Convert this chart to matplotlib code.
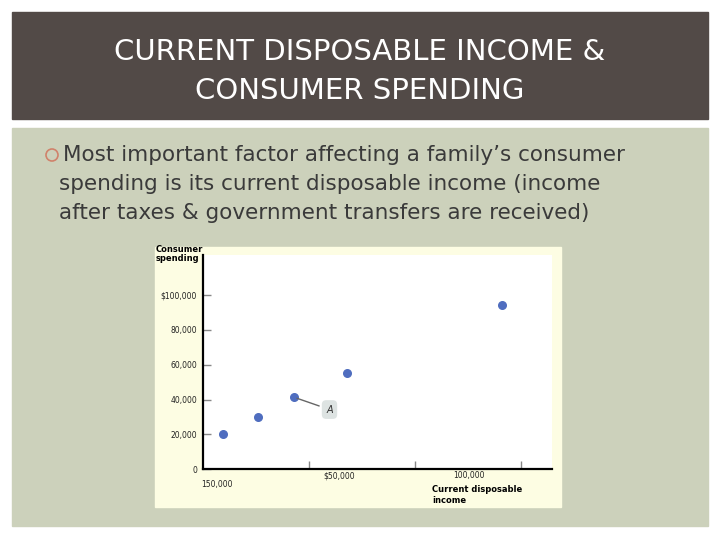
import matplotlib
matplotlib.use("Agg")
import matplotlib.pyplot as plt
from matplotlib.patches import Rectangle, Ellipse

# chart data
income = [9700, 25900, 43200, 67900, 141200]
spending = [20200, 30000, 41300, 55400, 94300]
y_ticks = [0, 20000, 40000, 60000, 80000, 100000]
y_labels = ["0", "20,000", "40,000", "60,000", "80,000", "$100,000"]
x_ticks = [50000, 100000, 150000]
x_label_pos = [6700, 64300, 125600]
x_labels = ["150,000", "$50,000", "100,000"]

W, H = 720, 540


def fx(px):
    return px / W


def fy(py):
    return 1 - py / H


fig = plt.figure(figsize=(7.2, 5.4), dpi=100)
fig.patch.set_facecolor("white")

# title bar
fig.add_artist(Rectangle((fx(12), fy(119)), fx(696), 107 / H, color="#524a47", zorder=0))
fig.text(0.5, fy(52), "CURRENT DISPOSABLE INCOME &", color="white", fontsize=21,
         ha="center", va="center")
fig.text(0.5, fy(91), "CONSUMER SPENDING", color="white", fontsize=21,
         ha="center", va="center")

# content box
fig.add_artist(Rectangle((fx(12), fy(526)), fx(696), 398 / H, color="#ccd1bb", zorder=0))
fig.add_artist(Ellipse((fx(52), fy(155)), fx(12), 12 / H, fill=False,
                       edgecolor="#d0826b", linewidth=1.2))
body = ["Most important factor affecting a family\u2019s consumer",
        "spending is its current disposable income (income",
        "after taxes & government transfers are received)"]
for i, line in enumerate(body):
    fig.text(fx(63 if i == 0 else 59), fy(155 + 29 * i), line, color="#3a3a3a",
             fontsize=15.5, ha="left", va="center")

# chart background
fig.add_artist(Rectangle((fx(155), fy(507)), fx(406), 260 / H, color="#fdfde3", zorder=0))

ax = fig.add_axes([fx(202.7), fy(469.3), fx(349), 214.3 / H])
ax.set_facecolor("white")
ax.set_xlim(0, 164600)
ax.set_ylim(0, 123000)
for s in ["top", "right"]:
    ax.spines[s].set_visible(False)
for s in ["left", "bottom"]:
    ax.spines[s].set_linewidth(1.6)
    ax.spines[s].set_color("black")

ax.set_yticks(y_ticks)
ax.set_yticklabels(y_labels)
ax.tick_params(axis="y", direction="in", length=6, color="#888888", width=1,
               labelsize=5.5, pad=4, labelcolor="#222222")
ax.set_xticks(x_ticks)
ax.set_xticklabels([])
ax.tick_params(axis="x", direction="in", length=6, color="#888888", width=1)
for xp, lab in zip(x_label_pos, x_labels):
    ax.text(xp, -0.03 if lab != "150,000" else -0.07, lab, transform=ax.get_xaxis_transform(),
            ha="center", va="center", fontsize=5.5, color="#222222")

ax.scatter(income, spending, s=30, color="#4f6dbf", zorder=3, clip_on=False)

# point A label
ax.annotate("A", xy=(income[2], spending[2]), xytext=(59800, 34300),
            ha="center", va="center", fontsize=7, style="italic", color="#333333",
            bbox=dict(boxstyle="round,pad=0.45", fc="#dde3e2", ec="none"),
            arrowprops=dict(arrowstyle="-", color="#666666", lw=1))

fig.text(fx(156), fy(254), "Consumer\nspending", fontsize=6, fontweight="bold",
         ha="left", va="center", linespacing=1.1)
fig.text(fx(432), fy(495), "Current disposable\nincome", fontsize=6, fontweight="bold",
         ha="left", va="center", linespacing=1.2)

fig.savefig("out.png", dpi=100)
